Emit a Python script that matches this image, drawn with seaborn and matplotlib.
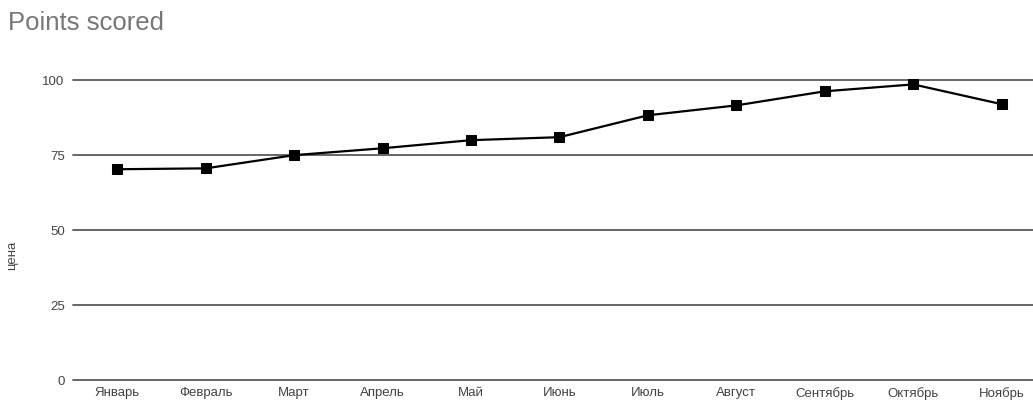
import matplotlib
matplotlib.use("Agg")
import matplotlib.pyplot as plt
import seaborn as sns
import pandas as pd

# данные
months = ["Январь", "Февраль", "Март", "Апрель", "Май", "Июнь",
          "Июль", "Август", "Сентябрь", "Октябрь", "Ноябрь"]
points = [70.3, 70.6, 75.0, 77.3, 80.0, 81.0, 88.3, 91.6, 96.3, 98.6, 92.0]
y_ticks = [0, 25, 50, 75, 100]

sns.set_theme(style="white")
plt.rcParams["font.family"] = ["Liberation Sans", "DejaVu Sans"]

df = pd.DataFrame({"month": months, "points": points, "x": range(len(months))})

fig = plt.figure(figsize=(10.33, 4.03), dpi=100)
ax = fig.add_axes([0.0707, 0.057, 0.935, 0.744])

for t in y_ticks:
    ax.axhline(t, color="#5a5a5a", lw=1.3, zorder=1)

sns.lineplot(data=df, x="x", y="points", ax=ax, color="black", lw=1.6,
             marker="s", markersize=6.5, markeredgecolor="black", zorder=3)

ax.set_xlim(-0.5, 10.42)
ax.set_ylim(0, 100)
ax.set_xticks(range(len(months)))
ax.set_xticklabels(months)
ax.set_yticks(y_ticks)
ax.tick_params(axis="both", labelsize=9.5, colors="#444444", length=0)
ax.tick_params(axis="y", pad=6)
ax.tick_params(axis="x", pad=5)
for line in ax.get_lines():
    line.set_clip_on(False)
for s in ax.spines.values():
    s.set_visible(False)
ax.set_xlabel("")
ax.set_ylabel("")

fig.text(12 / 1033, 1 - 255 / 403, "цена", rotation=90, fontsize=9.5,
         color="#444444", ha="center", va="center")
fig.text(0.008, 1 - 23 / 403, "Points scored", fontsize=18.5, color="#777777",
         va="center")

fig.savefig("out.png", dpi=100)
